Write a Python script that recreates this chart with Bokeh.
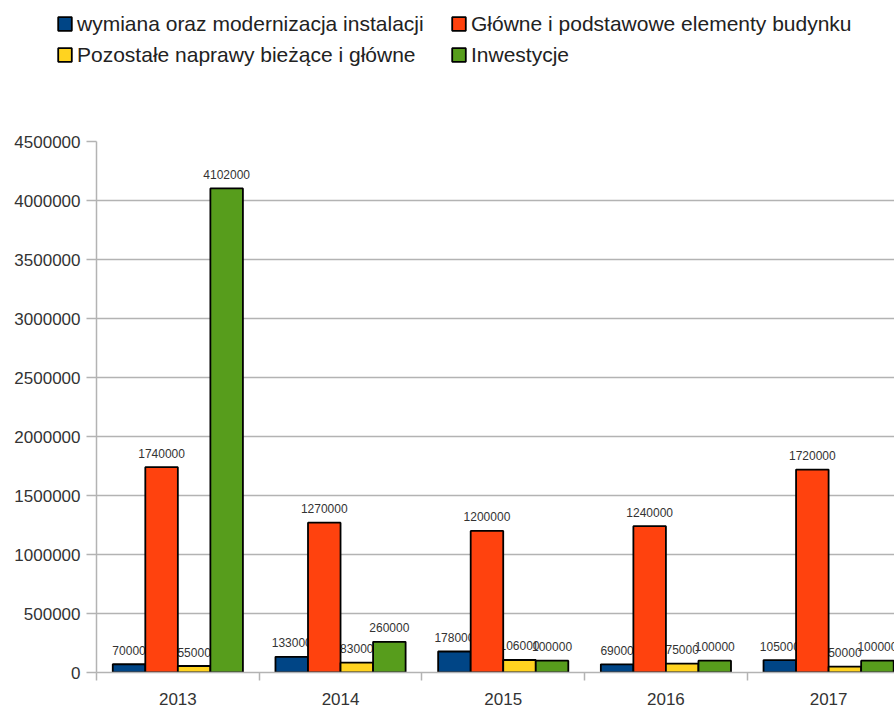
import numpy as np
from bokeh.plotting import figure
from bokeh.models import (ColumnDataSource, Range1d, FixedTicker, NumeralTickFormatter,
                          Legend, LegendItem)
from bokeh.transform import dodge
from bokeh.core.properties import value
from bokeh.embed import file_html
from bokeh.resources import INLINE

# ---- data ----
years = ["2013", "2014", "2015", "2016", "2017"]
wymiana = [70000, 133000, 178000, 69000, 105000]
glowne = [1740000, 1270000, 1200000, 1240000, 1720000]
pozostale = [55000, 83000, 106000, 75000, 50000]
inwestycje = [4102000, 260000, 100000, 100000, 100000]

series_names = ["wymiana oraz modernizacja instalacji",
                "Główne i podstawowe elementy budynku",
                "Pozostałe naprawy bieżące i główne",
                "Inwestycje"]
series_values = [wymiana, glowne, pozostale, inwestycje]
colors = ["#004586", "#ff420e", "#ffd320", "#579d1c"]
y_ticks = list(range(0, 4500001, 500000))

FONT = "Liberation Sans"
GRID = "#b3b3b3"
TXT = "#333333"

xc = np.arange(len(years)) + 0.5
data = {"x": xc}
for i, vals in enumerate(series_values):
    data[f"s{i}"] = vals
    data[f"l{i}"] = [str(v) for v in vals]
src = ColumnDataSource(data)

offsets = [-0.3, -0.1, 0.1, 0.3]
bar_style = dict(width=0.2, line_color="black", line_width=1.8)

# ---------- main chart ----------
p = figure(width=894, height=578, output_backend="svg", toolbar_location=None,
           x_range=Range1d(0, 4.905), y_range=Range1d(0, 4500000),
           min_border_left=96, min_border_right=0, min_border_top=12,
           min_border_bottom=34)
p.outline_line_color = None

# value labels first (bars drawn on top of them)
for i in range(4):
    p.text(x=dodge("x", offsets[i], range=p.x_range), y=f"s{i}", text=f"l{i}",
           source=src, text_align="center", text_baseline="alphabetic",
           y_offset=-14, text_font=value(FONT), text_font_size="12px",
           text_color=TXT)

for i in range(4):
    p.vbar(x=dodge("x", offsets[i], range=p.x_range), top=f"s{i}", source=src,
           fill_color=colors[i], **bar_style)

p.yaxis.ticker = FixedTicker(ticks=y_ticks)
p.yaxis.formatter = NumeralTickFormatter(format="0")
p.yaxis.major_tick_out = 10
p.yaxis.major_tick_in = 0
p.yaxis.minor_tick_out = 0
p.yaxis.minor_tick_in = 0
p.yaxis.major_label_standoff = 6
p.yaxis.axis_line_color = GRID
p.yaxis.axis_line_width = 1.5
p.yaxis.major_tick_line_color = GRID
p.yaxis.major_tick_line_width = 1.5
p.yaxis.major_label_text_font = FONT
p.yaxis.major_label_text_font_size = "17px"
p.yaxis.major_label_text_color = TXT

p.xaxis.ticker = FixedTicker(ticks=list(xc), minor_ticks=list(np.arange(len(years) + 1)))
p.xaxis.major_label_overrides = {float(x): y for x, y in zip(xc, years)}
p.xaxis.major_tick_out = 0
p.xaxis.major_tick_in = 0
p.xaxis.minor_tick_out = 8
p.xaxis.minor_tick_in = 0
p.xaxis.minor_tick_line_color = GRID
p.xaxis.minor_tick_line_width = 1.5
p.xaxis.major_label_standoff = 12
p.xaxis.axis_line_color = GRID
p.xaxis.axis_line_width = 1.5
p.xaxis.major_label_text_font = FONT
p.xaxis.major_label_text_font_size = "17px"
p.xaxis.major_label_text_color = TXT

p.xgrid.grid_line_color = None
p.ygrid.grid_line_color = GRID
p.ygrid.grid_line_width = 1.5

# ---------- legend strip (separate root, frame spans whole strip) ----------
lf = figure(width=894, height=129, output_backend="svg", toolbar_location=None,
            x_range=Range1d(0, 1), y_range=Range1d(0, 1),
            x_axis_type=None, y_axis_type=None, min_border=0)
lf.outline_line_color = None
lf.grid.visible = False
leg_r = [lf.vbar(x=dodge("x", offsets[i], range=lf.x_range), top=f"s{i}", source=src,
                 fill_color=colors[i], visible=False, **bar_style)
         for i in range(4)]


def make_legend(idx, loc):
    return Legend(items=[LegendItem(label=series_names[k], renderers=[leg_r[k]]) for k in idx],
                  location=loc, orientation="vertical",
                  glyph_width=17, glyph_height=17, label_standoff=4,
                  label_height=25, spacing=6, padding=0, margin=0,
                  border_line_alpha=0, background_fill_alpha=0,
                  inactive_fill_alpha=0,
                  label_text_font=FONT, label_text_font_size="21px",
                  label_text_color="#222222")


lf.add_layout(make_legend([0, 2], (56, 129 - 67)), "center")
lf.add_layout(make_legend([1, 3], (450, 129 - 67)), "center")

open("out.html", "w").write(file_html((lf, p), INLINE))
